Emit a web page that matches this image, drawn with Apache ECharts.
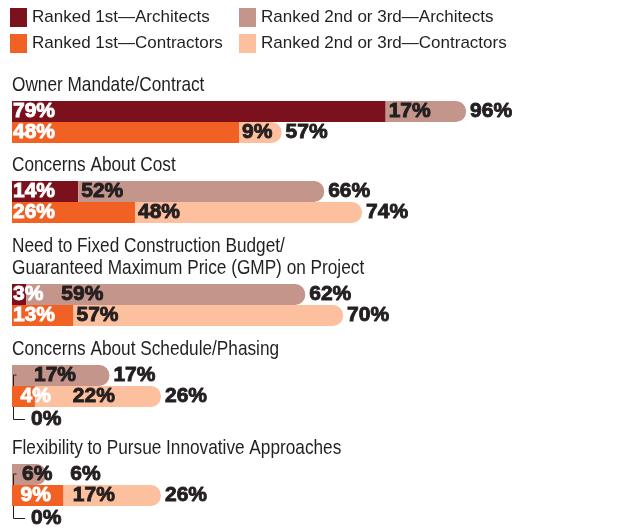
<!DOCTYPE html>
<html><head><meta charset="utf-8">
<script src="https://cdn.jsdelivr.net/npm/echarts@6/dist/echarts.min.js"></script>
<style>html,body{margin:0;padding:0;background:#fff}#c{width:628px;height:529px}</style>
</head><body><div id="c"></div>
<script>
// ---- data ----
const categories = [
  'Owner Mandate/Contract',
  'Concerns About Cost',
  'Need to Fixed Construction Budget/\nGuaranteed Maximum Price (GMP) on Project',
  'Concerns About Schedule/Phasing',
  'Flexibility to Pursue Innovative Approaches'
];
const legendNames = ['Ranked 1st\u2014Architects', 'Ranked 2nd or 3rd\u2014Architects',
                     'Ranked 1st\u2014Contractors', 'Ranked 2nd or 3rd\u2014Contractors'];
const rows = ['Architects', 'Contractors'];
const arch1  = [79, 14, 3, 0, 0];
const arch2  = [17, 52, 59, 17, 6];
const contr1 = [48, 26, 13, 4, 9];
const contr2 = [9, 48, 57, 22, 17];

// ---- layout / style ----
const groupTop = [101, 181, 284, 365, 464];
const gridWidth = [473, 473, 473, 573, 573];
const barH = 21;
const colors = {a1: '#7b111c', a2: '#c4968b', c1: '#f26124', c2: '#fdc09e', text: '#231f20'};
const sans = '"Liberation Sans",Arial,sans-serif';
const VAL = 21;
const zeroRowLabelDx = {3: 22, 4: 10};

const mctx = document.createElement('canvas').getContext('2d');
mctx.font = 'bold ' + VAL + 'px ' + sans;
function tw(s) { return mctx.measureText(s).width; }
function txt(x, y, s, fill) {
  return {type: 'text', x: x, y: y, style: {text: s, fill: fill, fontSize: VAL, fontWeight: 'bold',
    fontFamily: sans, align: 'left', verticalAlign: 'middle', stroke: fill, lineWidth: 0.9}};
}

const chart = echarts.init(document.getElementById('c'), null, {renderer: 'canvas'});
const grids = [], xAxes = [], yAxes = [], series = [], graphics = [];

categories.forEach(function (cat, g) {
  grids.push({left: 12, top: groupTop[g], width: gridWidth[g], height: barH * 2});
  xAxes.push({type: 'value', gridIndex: g, min: 0, max: 100, show: false});
  yAxes.push({type: 'category', gridIndex: g, data: rows, inverse: true, show: false});
  const base = {type: 'bar', xAxisIndex: g, yAxisIndex: g, stack: 's' + g, barWidth: barH, silent: true, animation: false};
  series.push(Object.assign({}, base, {name: legendNames[0], z: 1, itemStyle: {color: colors.a1}, data: [arch1[g], '-']}));
  series.push(Object.assign({}, base, {name: legendNames[1], z: 1, itemStyle: {color: colors.a2, borderRadius: [0, 10, 10, 0]}, data: [arch2[g], '-']}));
  series.push(Object.assign({}, base, {name: legendNames[2], z: 3, itemStyle: {color: colors.c1}, data: ['-', contr1[g]]}));
  series.push(Object.assign({}, base, {name: legendNames[3], z: 3, itemStyle: {color: colors.c2, borderRadius: [0, 10, 10, 0]}, data: ['-', contr2[g]]}));

  const segData = [[0, arch1[g], arch2[g]], [1, contr1[g], contr2[g]]];
  const hasZero = arch1[g] === 0 || contr1[g] === 0;

  // bracket for 0% first-rank values
  series.push({type: 'custom', xAxisIndex: g, yAxisIndex: g, z: 2, silent: true, clip: false, animation: false,
    encode: {x: 1, y: 0}, data: segData,
    renderItem: function (params, api) {
      const row = api.value(0), v1 = api.value(1);
      if (v1 !== 0) return null;
      const p0 = api.coord([0, row]);
      const yA = p0[1] - 0.5;
      const yB = api.coord([0, 1])[1] + barH / 2 + 12.5;
      const x = p0[0] + 1.5;
      return {type: 'polyline', shape: {points: [[x + 3, yA], [x, yA], [x, yB], [x + 11.5, yB]]},
        style: {stroke: colors.text, lineWidth: 1, fill: null}};
    }
  });

  // value labels
  series.push({type: 'custom', xAxisIndex: g, yAxisIndex: g, z: 5, silent: true, clip: false, animation: false,
    encode: {x: 1, y: 0}, data: segData,
    renderItem: function (params, api) {
      const row = api.value(0), v1 = api.value(1), v2 = api.value(2);
      const p0 = api.coord([0, row]), p1 = api.coord([v1, row]), p2 = api.coord([v1 + v2, row]);
      const y = p0[1];
      const ch = [];
      let x2;
      if (v1 > 0) {
        const x1 = p0[0] + (hasZero ? 8.5 : 1);
        const t1 = v1 + '%';
        ch.push(txt(x1, y, t1, '#fff'));
        x2 = Math.max(p1[0] + 3, x1 + tw(t1) + (hasZero ? 22 : 18));
      } else {
        x2 = p0[0] + (zeroRowLabelDx[g] !== undefined ? zeroRowLabelDx[g] : 3);
        const yB = api.coord([0, 1])[1] + barH / 2 + 12.5;
        ch.push(txt(p0[0] + 19, yB, '0%', colors.text));
      }
      const t2 = v2 + '%';
      ch.push(txt(x2, y, t2, colors.text));
      const t3 = (v1 + v2) + '%';
      const end2 = x2 + tw(t2);
      const x3 = end2 <= p2[0] ? p2[0] + 4 : end2 + 18;
      ch.push(txt(x3, y, t3, colors.text));
      return {type: 'group', children: ch};
    }
  });

  // group titles (condensed look via horizontal scale)
  const lines = cat.split('\n');
  lines.forEach(function (ln, i) {
    const baseline = groupTop[g] - 8 - (lines.length - 1 - i) * 22.5;
    graphics.push({type: 'text', x: 12, y: baseline - 7.3, scaleX: 0.82, silent: true,
      style: {text: ln, fill: colors.text, fontSize: 21, fontFamily: sans, verticalAlign: 'middle', align: 'left'}});
  });
});

const legendCommon = {orient: 'vertical', top: 8, padding: 0, itemWidth: 17, itemHeight: 19, itemGap: 7,
  icon: 'rect', selectedMode: false,
  textStyle: {fontSize: 17, lineHeight: 19, fontFamily: sans, color: colors.text}};

chart.setOption({
  animation: false,
  legend: [
    Object.assign({}, legendCommon, {left: 10, data: [legendNames[0], legendNames[2]]}),
    Object.assign({}, legendCommon, {left: 239, data: [legendNames[1], legendNames[3]]})
  ],
  grid: grids, xAxis: xAxes, yAxis: yAxes, series: series,
  graphic: graphics
});
</script>
</body></html>
